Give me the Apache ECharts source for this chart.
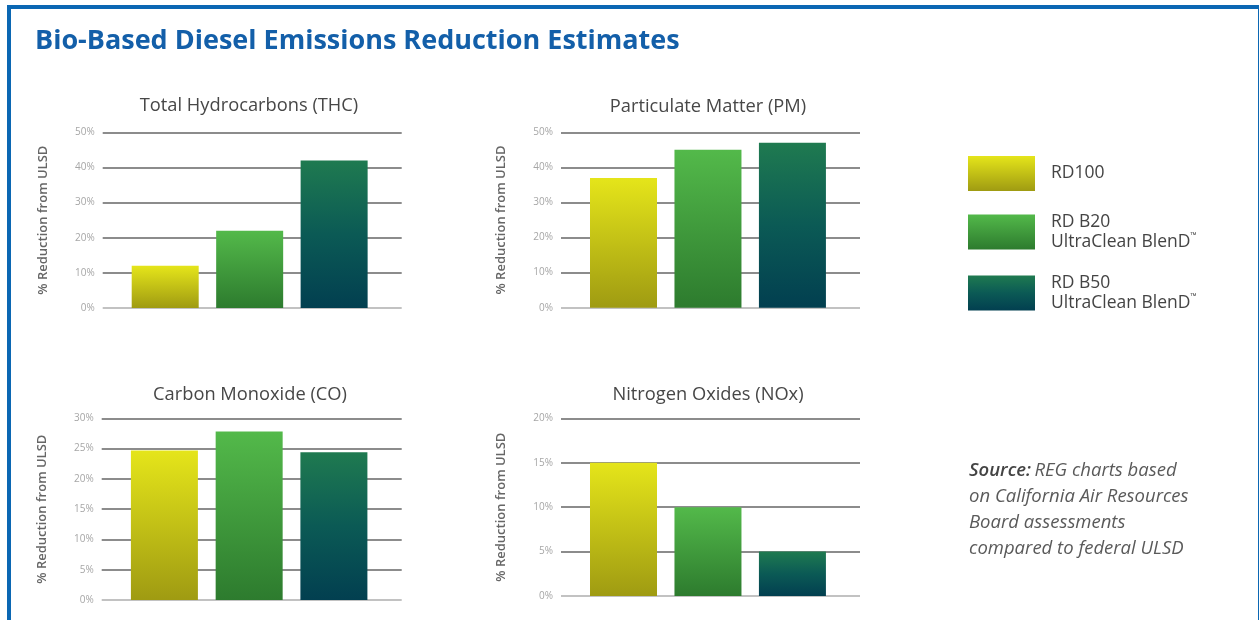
<!DOCTYPE html>
<html><head><meta charset="utf-8">
<script src="https://cdn.jsdelivr.net/npm/echarts@6/dist/echarts.min.js"></script>
<style>
html,body{margin:0;padding:0;background:#fff;overflow:hidden;width:1260px;height:620px;}
#frame{position:absolute;left:7px;top:5px;width:1247px;height:640px;border-top:4px solid #0b67b3;border-left:4px solid #0b67b3;border-right:1px solid #0b67b3;}
#chart{position:absolute;left:0;top:0;width:1260px;height:620px;}
</style></head>
<body><div id="frame"></div><div id="chart"></div>
<script>
const mainTitle = 'Bio-Based Diesel Emissions Reduction Estimates';
const seriesNames = ['RD100', 'RD B20', 'RD B50'];
const legendSubLabels = ['', 'UltraClean BlenD', 'UltraClean BlenD'];
const chartTitles = ['Total Hydrocarbons (THC)', 'Particulate Matter (PM)', 'Carbon Monoxide (CO)', 'Nitrogen Oxides (NOx)'];
const yAxisName = '% Reduction from ULSD';
const thcValues = [12, 22, 42];
const pmValues = [37, 45, 47];
const coValues = [24.7, 27.8, 24.4];
const noxValues = [15, 10, 5];
const axisMax = [50, 50, 30, 20];
const axisInterval = [10, 10, 5, 5];
const sourceLines = ['REG charts based', 'on California Air Resources', 'Board assessments', 'compared to federal ULSD'];

const chartValues = [thcValues, pmValues, coValues, noxValues];

const grids = [
  {left: 102.7, top: 132.3, width: 299, height: 175.7},
  {left: 561, top: 132.3, width: 299, height: 175.4},
  {left: 101.7, top: 418.3, width: 300, height: 181.7},
  {left: 561, top: 418.3, width: 299, height: 177.7}
];
const titlePos = [[249, 106], [708, 106.5], [250, 395], [708, 395]];

function grad(top, bottom) {
  return new echarts.graphic.LinearGradient(0, 0, 0, 1, [
    {offset: 0, color: top}, {offset: 1, color: bottom}
  ]);
}
function grad3(top, mid, bottom) {
  return new echarts.graphic.LinearGradient(0, 0, 0, 1, [
    {offset: 0, color: top}, {offset: 0.5, color: mid}, {offset: 1, color: bottom}
  ]);
}
const fills = [
  grad('#e5e51a', '#9f9b12'),
  grad('#53b94a', '#2d7b2e'),
  grad3('#1f7a50', '#0b5a55', '#023f50')
];

const splitColors = ['#c2c2c2', '#8c8c8c', '#8c8c8c', '#8c8c8c', '#8c8c8c', '#8c8c8c', '#8c8c8c'];

const xAxes = [], yAxes = [], series = [];
grids.forEach((g, c) => {
  xAxes.push({type: 'value', gridIndex: c, min: -0.74, max: 2.8, show: false});
  yAxes.push({
    type: 'value', gridIndex: c, min: 0, max: axisMax[c], interval: axisInterval[c],
    name: yAxisName, nameLocation: 'middle', nameGap: 53,
    nameTextStyle: {fontFamily: 'Open Sans', fontSize: 13, fontWeight: 600, color: '#666'},
    axisLine: {show: false}, axisTick: {show: false},
    axisLabel: {formatter: '{value}%', margin: 8, fontFamily: 'Open Sans', fontSize: 10, color: '#a6a6a6'},
    splitLine: {show: true, lineStyle: {color: splitColors, width: 2}}
  });
  seriesNames.forEach((n, s) => {
    series.push({
      type: 'bar', name: n, xAxisIndex: c, yAxisIndex: c,
      data: [[s, chartValues[c][s]]],
      barWidth: 67, barGap: '-100%',
      itemStyle: {color: fills[s], borderWidth: 0},
      silent: true, animation: false
    });
  });
});

const graphics = [
  {type: 'text', x: 35, y: 41, style: {text: mainTitle, fontFamily: 'Open Sans', fontWeight: 'bold', fontSize: 27, fill: '#135fa9', align: 'left', verticalAlign: 'middle'}}
];
chartTitles.forEach((t, i) => {
  graphics.push({type: 'text', x: titlePos[i][0], y: titlePos[i][1],
    style: {text: t, fontFamily: 'Open Sans', fontSize: 18.3, fill: '#474747', align: 'center', verticalAlign: 'middle'}});
});
graphics.push({type: 'text', x: 969, y: 457.7, style: {
  text: '{b|Source:} {i|' + sourceLines[0] + '}\n' + sourceLines.slice(1).map(l => '{i|' + l + '}').join('\n'),
  align: 'left', verticalAlign: 'top',
  rich: {
    b: {fontFamily: 'Open Sans', fontStyle: 'italic', fontWeight: 600, fontSize: 18.5, fill: '#444', lineHeight: 26},
    i: {fontFamily: 'Open Sans', fontStyle: 'italic', fontSize: 18.5, fill: '#5a5a5a', lineHeight: 26}
  }
}});

const chart = echarts.init(document.getElementById('chart'), null, {renderer: 'canvas'});
chart.setOption({
  backgroundColor: 'transparent',
  animation: false,
  grid: grids,
  xAxis: xAxes,
  yAxis: yAxes,
  series: series,
  legend: {
    orient: 'vertical', left: 968, top: 156, padding: 0, itemWidth: 67, itemHeight: 35, itemGap: 21,
    icon: 'rect', selectedMode: false, data: seriesNames,
    formatter: function (name) {
      const i = seriesNames.indexOf(name);
      return legendSubLabels[i] ? name + '\n' + legendSubLabels[i] + '{tm|™}' : name;
    },
    textStyle: {
      fontFamily: 'Open Sans', fontSize: 17.5, color: '#444', lineHeight: 20, padding: [0, 0, 0, 11],
      rich: {tm: {fontFamily: 'Open Sans', fontSize: 8, color: '#444', lineHeight: 20, verticalAlign: 'top', padding: [0, 0, 6, 0]}}
    }
  },
  graphic: graphics
});
</script>
</body></html>
